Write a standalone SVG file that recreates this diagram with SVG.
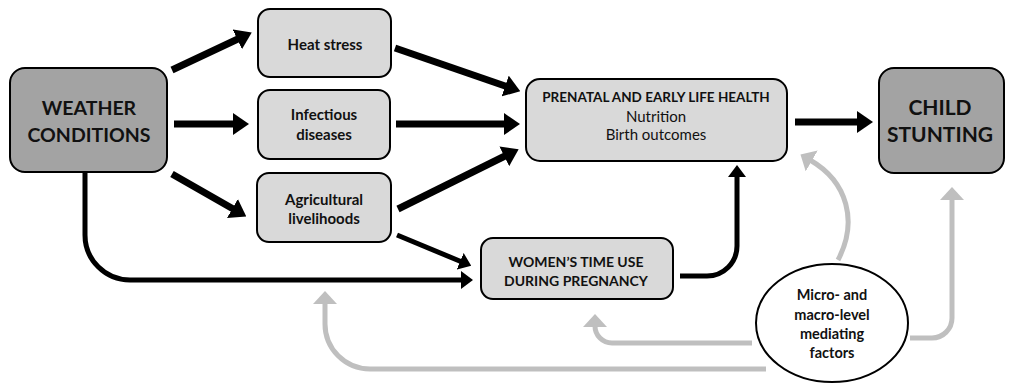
<svg xmlns="http://www.w3.org/2000/svg" width="1009" height="384" viewBox="0 0 1009 384">
<style>
.box{fill:#d9d9d9;stroke:#000;stroke-width:2}
.dark{fill:#a3a3a3;stroke:#000;stroke-width:2}
text{font-family:Lato,"Liberation Sans",sans-serif;text-anchor:middle;fill:#111}
.b{font-weight:bold}
.big{font-size:21px;font-weight:bold}
.mid{font-size:15px;font-weight:bold}
.el{font-size:14.5px;font-weight:bold}
.hd{font-size:13.5px;font-weight:bold}
.sm{font-size:15px}
.wm{font-size:14px;font-weight:bold}
.blk{fill:none;stroke:#000;stroke-width:7}
.blk5{fill:none;stroke:#000;stroke-width:5}
.gry{fill:none;stroke:#bfbfbf;stroke-width:5}
</style>
<defs>
<marker id="ah" markerUnits="userSpaceOnUse" markerWidth="16" markerHeight="22" refX="3" refY="11" orient="auto"><path d="M0,0 L16,11 L0,22 z" fill="#000"/></marker>
<marker id="ahs" markerUnits="userSpaceOnUse" markerWidth="12" markerHeight="18" refX="2" refY="9" orient="auto"><path d="M0,0 L12,9 L0,18 z" fill="#000"/></marker>
<marker id="ahg" markerUnits="userSpaceOnUse" markerWidth="13" markerHeight="24" refX="2" refY="12" orient="auto"><path d="M0,0 L13,12 L0,24 z" fill="#bfbfbf"/></marker>
</defs>
<g id="connectors">
<path class="blk" d="M172,70 L240,38" marker-end="url(#ah)"/>
<path class="blk" d="M174,124 L236,124" marker-end="url(#ah)"/>
<path class="blk" d="M172,174 L235,210" marker-end="url(#ah)"/>
<path class="blk" d="M395,48 L508,87" marker-end="url(#ah)"/>
<path class="blk" d="M396,124 L507,124" marker-end="url(#ah)"/>
<path class="blk" d="M398,209 L507,155" marker-end="url(#ah)"/>
<path class="blk5" d="M397,235 L462,262" marker-end="url(#ahs)"/>
<path class="blk5" d="M85,172 V235 A45,45 0 0 0 130,280 H463" marker-end="url(#ahs)"/>
<path class="blk5" d="M680,276 H707 A30,30 0 0 0 737,246 V175" marker-end="url(#ahs)"/>
<path class="blk" d="M795,122 L860,122" marker-end="url(#ah)"/>
<path class="gry" d="M838,260 C858,222 848,182 810,160" marker-end="url(#ahg)"/>
<path class="gry" d="M910,338 H932 A20,20 0 0 0 952,318 V198" marker-end="url(#ahg)"/>
<path class="gry" d="M752,343 H612 A17,17 0 0 1 595,326 V325" marker-end="url(#ahg)"/>
<path class="gry" d="M766,369 H370 A45,45 0 0 1 325,324 V302" marker-end="url(#ahg)"/>
</g>
<g id="weather">
<rect class="dark" x="10" y="68" width="157" height="104" rx="15"/>
<text class="big" x="89" y="115" style="font-size:19.5px">WEATHER</text>
<text class="big" x="89" y="142" style="font-size:19.5px">CONDITIONS</text>
</g>
<g id="heat">
<rect class="box" x="258" y="9" width="133" height="68" rx="12"/>
<text class="mid" x="325" y="50">Heat stress</text>
</g>
<g id="infectious">
<rect class="box" x="258" y="90" width="132" height="69" rx="12"/>
<text class="mid" x="324" y="120">Infectious</text>
<text class="mid" x="324" y="140">diseases</text>
</g>
<g id="agri">
<rect class="box" x="257" y="173" width="134" height="69" rx="12"/>
<text class="mid" x="324" y="205">Agricultural</text>
<text class="mid" x="324" y="224">livelihoods</text>
</g>
<g id="prenatal">
<rect class="box" x="526" y="79" width="261" height="82" rx="14"/>
<text class="hd" x="656" y="102">PRENATAL AND EARLY LIFE HEALTH</text>
<text class="sm" x="656" y="122">Nutrition</text>
<text class="sm" x="656" y="140">Birth outcomes</text>
</g>
<g id="child">
<rect class="dark" x="879" y="68" width="125" height="105" rx="15"/>
<text class="big" x="940" y="115">CHILD</text>
<text class="big" x="940" y="142">STUNTING</text>
</g>
<g id="women">
<rect class="box" x="481" y="238" width="192" height="61" rx="12"/>
<text class="wm" x="576" y="267">WOMEN’S TIME USE</text>
<text class="wm" x="576" y="286">DURING PREGNANCY</text>
</g>
<g id="mediating">
<ellipse cx="832" cy="323" rx="76" ry="59" fill="#fff" stroke="#000" stroke-width="2"/>
<text class="el" x="832" y="300">Micro- and</text>
<text class="el" x="832" y="320">macro-level</text>
<text class="el" x="832" y="339">mediating</text>
<text class="el" x="832" y="358">factors</text>
</g>
</svg>
